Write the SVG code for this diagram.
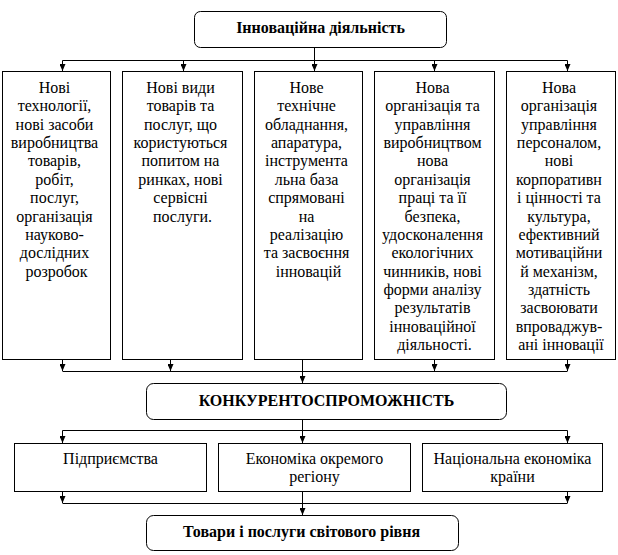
<svg xmlns="http://www.w3.org/2000/svg" width="618" height="555" viewBox="0 0 618 555">
<style>
  .box{fill:#fff;stroke:#000;stroke-width:1}
  text{font-family:'Liberation Serif','Times New Roman',serif;font-size:16px;fill:#000;text-anchor:middle}
  .b{font-weight:bold}
  .c{fill:none;stroke:#000;stroke-width:1}
</style>
<defs>
  <marker id="ar" viewBox="0 0 7 6" refX="7" refY="3" markerWidth="7" markerHeight="6" markerUnits="userSpaceOnUse" orient="auto">
    <path d="M0,0 L7,3 L0,6 z" fill="#000"/>
  </marker>
</defs>
<g id="connectors" class="c">
  <path d="M314.5,47.5 V60.5 M62.5,60.5 H567.5"/>
  <path d="M62.5,60.5 V71" marker-end="url(#ar)"/>
  <path d="M183.5,60.5 V71" marker-end="url(#ar)"/>
  <path d="M314.5,60.5 V71" marker-end="url(#ar)"/>
  <path d="M434.5,60.5 V71" marker-end="url(#ar)"/>
  <path d="M567.5,60.5 V71" marker-end="url(#ar)"/>
  <path d="M62.5,371.5 H567.5"/>
  <path d="M62.5,359.5 V371" marker-end="url(#ar)"/>
  <path d="M170.5,359.5 V371" marker-end="url(#ar)"/>
  <path d="M434.5,359.5 V371" marker-end="url(#ar)"/>
  <path d="M567.5,359.5 V371" marker-end="url(#ar)"/>
  <path d="M302.5,359.5 V383" marker-end="url(#ar)"/>
  <path d="M62.5,430.5 H567.5"/>
  <path d="M302.5,419.5 V443" marker-end="url(#ar)"/>
  <path d="M62.5,430.5 V443" marker-end="url(#ar)"/>
  <path d="M567.5,430.5 V443" marker-end="url(#ar)"/>
  <path d="M62.5,503.5 H567.5"/>
  <path d="M62.5,491.5 V503" marker-end="url(#ar)"/>
  <path d="M567.5,491.5 V503" marker-end="url(#ar)"/>
  <path d="M302.5,491.5 V515" marker-end="url(#ar)"/>
</g>
<g id="top">
  <rect class="box" x="194.5" y="11.5" width="252" height="36" rx="6"/>
  <text class="b" x="320.5" y="33" font-size="15">Інноваційна діяльність</text>
</g>
<g id="n1">
  <rect class="box" x="2.5" y="71.5" width="108" height="288"/>
  <text x="56.5" y="92.7">
    <tspan x="56.5">Нові</tspan>
    <tspan x="56.5" dy="18.4">технології,</tspan>
    <tspan x="56.5" dy="18.4">нові засоби</tspan>
    <tspan x="56.5" dy="18.4">виробництва</tspan>
    <tspan x="56.5" dy="18.4">товарів,</tspan>
    <tspan x="56.5" dy="18.4">робіт,</tspan>
    <tspan x="56.5" dy="18.4">послуг,</tspan>
    <tspan x="56.5" dy="18.4">організація</tspan>
    <tspan x="56.5" dy="18.4">науково-</tspan>
    <tspan x="56.5" dy="18.4">дослідних</tspan>
    <tspan x="56.5" dy="18.4">розробок</tspan>
  </text>
</g>
<g id="n2">
  <rect class="box" x="122.5" y="71.5" width="120" height="288"/>
  <text x="182.5" y="92.7">
    <tspan x="182.5">Нові види</tspan>
    <tspan x="182.5" dy="18.4">товарів та</tspan>
    <tspan x="182.5" dy="18.4">послуг, що</tspan>
    <tspan x="182.5" dy="18.4">користуються</tspan>
    <tspan x="182.5" dy="18.4">попитом на</tspan>
    <tspan x="182.5" dy="18.4">ринках, нові</tspan>
    <tspan x="182.5" dy="18.4">сервісні</tspan>
    <tspan x="182.5" dy="18.4">послуги.</tspan>
  </text>
</g>
<g id="n3">
  <rect class="box" x="254.5" y="71.5" width="108" height="288"/>
  <text x="308.5" y="92.7">
    <tspan x="308.5">Нове</tspan>
    <tspan x="308.5" dy="18.4">технічне</tspan>
    <tspan x="308.5" dy="18.4">обладнання,</tspan>
    <tspan x="308.5" dy="18.4">апаратура,</tspan>
    <tspan x="308.5" dy="18.4">інструмента</tspan>
    <tspan x="308.5" dy="18.4">льна база</tspan>
    <tspan x="308.5" dy="18.4">спрямовані</tspan>
    <tspan x="308.5" dy="18.4">на</tspan>
    <tspan x="308.5" dy="18.4">реалізацію</tspan>
    <tspan x="308.5" dy="18.4">та засвоєння</tspan>
    <tspan x="308.5" dy="18.4">інновацій</tspan>
  </text>
</g>
<g id="n4">
  <rect class="box" x="374.5" y="71.5" width="120" height="288"/>
  <text x="434.5" y="92.7">
    <tspan x="434.5">Нова</tspan>
    <tspan x="434.5" dy="18.4">організація та</tspan>
    <tspan x="434.5" dy="18.4">управління</tspan>
    <tspan x="434.5" dy="18.4">виробництвом</tspan>
    <tspan x="434.5" dy="18.4">нова</tspan>
    <tspan x="434.5" dy="18.4">організація</tspan>
    <tspan x="434.5" dy="18.4">праці та її</tspan>
    <tspan x="434.5" dy="18.4">безпека,</tspan>
    <tspan x="434.5" dy="18.4">удосконалення</tspan>
    <tspan x="434.5" dy="18.4">екологічних</tspan>
    <tspan x="434.5" dy="18.4">чинників, нові</tspan>
    <tspan x="434.5" dy="18.4">форми аналізу</tspan>
    <tspan x="434.5" dy="18.4">результатів</tspan>
    <tspan x="434.5" dy="18.4">інноваційної</tspan>
    <tspan x="434.5" dy="18.4">діяльності.</tspan>
  </text>
</g>
<g id="n5">
  <rect class="box" x="506.5" y="71.5" width="109" height="288"/>
  <text x="561" y="92.7">
    <tspan x="561">Нова</tspan>
    <tspan x="561" dy="18.4">організація</tspan>
    <tspan x="561" dy="18.4">управління</tspan>
    <tspan x="561" dy="18.4">персоналом,</tspan>
    <tspan x="561" dy="18.4">нові</tspan>
    <tspan x="561" dy="18.4">корпоративн</tspan>
    <tspan x="561" dy="18.4">і цінності та</tspan>
    <tspan x="561" dy="18.4">культура,</tspan>
    <tspan x="561" dy="18.4">ефективний</tspan>
    <tspan x="561" dy="18.4">мотиваційни</tspan>
    <tspan x="561" dy="18.4">й механізм,</tspan>
    <tspan x="561" dy="18.4">здатність</tspan>
    <tspan x="561" dy="18.4">засвоювати</tspan>
    <tspan x="561" dy="18.4">впроваджув-</tspan>
    <tspan x="561" dy="18.4">ані інновації</tspan>
  </text>
</g>
<g id="konk">
  <rect class="box" x="146.5" y="383.5" width="360" height="36" rx="7"/>
  <text class="b" x="326.5" y="405.7">КОНКУРЕНТОСПРОМОЖНІСТЬ</text>
</g>
<g id="a">
  <rect class="box" x="14.5" y="443.5" width="192" height="48"/>
  <text x="110.5" y="464.3">Підприємства</text>
</g>
<g id="b">
  <rect class="box" x="218.5" y="443.5" width="192" height="48"/>
  <text x="314.5" y="464.3"><tspan x="314.5">Економіка окремого</tspan><tspan x="314.5" dy="17.4">регіону</tspan></text>
</g>
<g id="c">
  <rect class="box" x="422.5" y="443.5" width="180" height="48"/>
  <text x="512.5" y="464.3"><tspan x="512.5">Національна економіка</tspan><tspan x="512.5" dy="17.4">країни</tspan></text>
</g>
<g id="final">
  <rect class="box" x="146.5" y="515.5" width="312" height="35" rx="7"/>
  <text class="b" x="301.5" y="536.7" font-size="15">Товари і послуги світового рівня</text>
</g>
</svg>
